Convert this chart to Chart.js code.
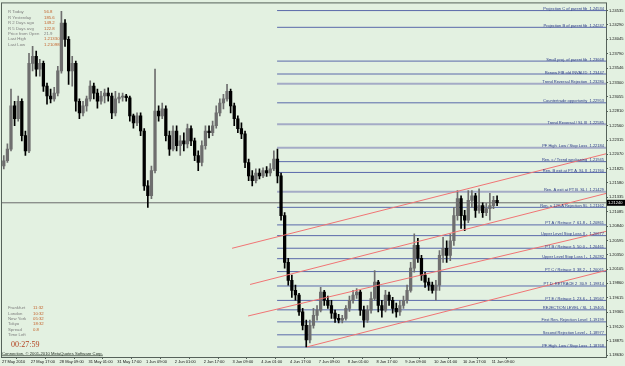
<!DOCTYPE html>
<html>
<head>
<meta charset="utf-8">
<script src="https://cdn.jsdelivr.net/npm/chart.js@4.4.0/dist/chart.umd.min.js"></script>
<style>
  html, body { margin: 0; padding: 0; background: #e3f1e1; }
</style>
</head>
<body>
<canvas id="chart" width="625" height="366"></canvas>
<script>
// EURUSD, 2-hour candles (27 May - 11 Jun 2010)
const opens = [
  1.2187, 1.2196, 1.2216, 1.2290, 1.2268, 1.2298, 1.2239, 1.2213, 1.2363, 1.2375,
  1.2353, 1.2363, 1.2324, 1.2307, 1.2302, 1.2312, 1.2350, 1.2432, 1.2404, 1.2350,
  1.2363, 1.2298, 1.2278, 1.2290, 1.2302, 1.2324, 1.2312, 1.2298, 1.2307, 1.2312,
  1.2307, 1.2278, 1.2302, 1.2305, 1.2307, 1.2304, 1.2273, 1.2261, 1.2273, 1.2247,
  1.2153, 1.2136, 1.2179, 1.2281, 1.2273, 1.2285, 1.2239, 1.2216, 1.2247, 1.2222,
  1.2230, 1.2225, 1.2251, 1.2230, 1.2205, 1.2193, 1.2222, 1.2247, 1.2244, 1.2256,
  1.2278, 1.2295, 1.2302, 1.2315, 1.2290, 1.2268, 1.2251, 1.2242, 1.2193, 1.2170,
  1.2162, 1.2175, 1.2170, 1.2179, 1.2175, 1.2182, 1.2199, 1.2170, 1.2102, 1.2022,
  1.1991, 1.1974, 1.1966, 1.1937, 1.1914, 1.1889, 1.1914, 1.1931, 1.1940, 1.1971,
  1.1957, 1.1948, 1.1935, 1.1926, 1.1923, 1.1926, 1.1943, 1.1957, 1.1966, 1.1971,
  1.1940, 1.1923, 1.1940, 1.1960, 1.1988, 1.1948, 1.1940, 1.1966, 1.1957, 1.1943,
  1.1937, 1.1948, 1.1957, 1.1974, 1.2012, 1.2051, 1.2029, 1.2000, 1.1988, 1.1983,
  1.1974, 1.1983, 1.2034, 1.2046, 1.2034, 1.2059, 1.2102, 1.2131, 1.2102, 1.2094,
  1.2128, 1.2136, 1.2111, 1.2119, 1.2107, 1.2114, 1.2119, 1.2128
];
const highs = [
  1.2205, 1.2225, 1.2319, 1.2298, 1.2307, 1.2302, 1.2247, 1.2380, 1.2392, 1.2384,
  1.2370, 1.2367, 1.2329, 1.2319, 1.2322, 1.2358, 1.2452, 1.2438, 1.2409, 1.2375,
  1.2367, 1.2302, 1.2298, 1.2307, 1.2333, 1.2329, 1.2319, 1.2315, 1.2319, 1.2321,
  1.2312, 1.2315, 1.2312, 1.2312, 1.2310, 1.2307, 1.2276, 1.2278, 1.2278, 1.2251,
  1.2162, 1.2187, 1.2353, 1.2290, 1.2295, 1.2290, 1.2247, 1.2256, 1.2256, 1.2239,
  1.2244, 1.2259, 1.2256, 1.2235, 1.2213, 1.2230, 1.2256, 1.2256, 1.2264, 1.2290,
  1.2302, 1.2310, 1.2327, 1.2319, 1.2295, 1.2273, 1.2261, 1.2247, 1.2199, 1.2179,
  1.2182, 1.2182, 1.2184, 1.2186, 1.2191, 1.2213, 1.2216, 1.2175, 1.2107, 1.2029,
  1.2000, 1.1983, 1.1969, 1.1943, 1.1923, 1.1923, 1.1943, 1.1948, 1.1979, 1.1974,
  1.1964, 1.1957, 1.1940, 1.1933, 1.1931, 1.1948, 1.1964, 1.1974, 1.1977, 1.1974,
  1.1947, 1.1948, 1.1971, 1.2008, 1.1991, 1.1957, 1.1974, 1.1971, 1.1962, 1.1952,
  1.1957, 1.1964, 1.1983, 1.2022, 1.2071, 1.2063, 1.2034, 1.2005, 1.1995, 1.1988,
  1.1991, 1.2042, 1.2065, 1.2059, 1.2071, 1.2116, 1.2145, 1.2136, 1.2111, 1.2145,
  1.2145, 1.2140, 1.2148, 1.2124, 1.2123, 1.2140, 1.2135, 1.2136
];
const lows = [
  1.2182, 1.2193, 1.2213, 1.2256, 1.2264, 1.2230, 1.2205, 1.2210, 1.2350, 1.2341,
  1.2341, 1.2315, 1.2293, 1.2295, 1.2298, 1.2307, 1.2346, 1.2392, 1.2327, 1.2324,
  1.2281, 1.2268, 1.2273, 1.2281, 1.2298, 1.2302, 1.2286, 1.2293, 1.2295, 1.2298,
  1.2268, 1.2273, 1.2295, 1.2298, 1.2298, 1.2264, 1.2252, 1.2256, 1.2239, 1.2145,
  1.2116, 1.2131, 1.2175, 1.2264, 1.2268, 1.2230, 1.2205, 1.2213, 1.2213, 1.2205,
  1.2213, 1.2218, 1.2222, 1.2196, 1.2179, 1.2187, 1.2216, 1.2235, 1.2239, 1.2252,
  1.2273, 1.2285, 1.2298, 1.2278, 1.2256, 1.2244, 1.2234, 1.2184, 1.2162, 1.2153,
  1.2158, 1.2165, 1.2167, 1.2169, 1.2170, 1.2179, 1.2158, 1.2094, 1.2012, 1.1983,
  1.1962, 1.1957, 1.1931, 1.1906, 1.1877, 1.1884, 1.1909, 1.1923, 1.1937, 1.1948,
  1.1943, 1.1926, 1.1919, 1.1918, 1.1918, 1.1923, 1.1938, 1.1952, 1.1960, 1.1931,
  1.1911, 1.1919, 1.1935, 1.1957, 1.1937, 1.1928, 1.1937, 1.1948, 1.1935, 1.1928,
  1.1931, 1.1943, 1.1952, 1.1971, 1.2005, 1.2022, 1.1991, 1.1979, 1.1974, 1.1969,
  1.1957, 1.1974, 1.2022, 1.2022, 1.2025, 1.2051, 1.2094, 1.2080, 1.2076, 1.2090,
  1.2116, 1.2099, 1.2106, 1.2099, 1.2102, 1.2094, 1.2114, 1.2119
];
const closes = [
  1.2196, 1.2216, 1.2290, 1.2268, 1.2298, 1.2239, 1.2213, 1.2363, 1.2375, 1.2353,
  1.2363, 1.2324, 1.2307, 1.2302, 1.2312, 1.2350, 1.2432, 1.2404, 1.2350, 1.2363,
  1.2298, 1.2278, 1.2290, 1.2302, 1.2324, 1.2312, 1.2298, 1.2307, 1.2312, 1.2307,
  1.2278, 1.2302, 1.2305, 1.2307, 1.2304, 1.2273, 1.2261, 1.2273, 1.2247, 1.2153,
  1.2136, 1.2179, 1.2281, 1.2273, 1.2285, 1.2239, 1.2216, 1.2247, 1.2222, 1.2230,
  1.2225, 1.2251, 1.2230, 1.2205, 1.2193, 1.2222, 1.2247, 1.2244, 1.2256, 1.2278,
  1.2295, 1.2302, 1.2315, 1.2290, 1.2268, 1.2251, 1.2242, 1.2193, 1.2170, 1.2162,
  1.2175, 1.2170, 1.2179, 1.2175, 1.2182, 1.2199, 1.2170, 1.2102, 1.2022, 1.1991,
  1.1974, 1.1966, 1.1937, 1.1914, 1.1889, 1.1914, 1.1931, 1.1940, 1.1971, 1.1957,
  1.1948, 1.1935, 1.1926, 1.1923, 1.1926, 1.1943, 1.1957, 1.1966, 1.1971, 1.1940,
  1.1923, 1.1940, 1.1960, 1.1988, 1.1948, 1.1940, 1.1966, 1.1957, 1.1943, 1.1937,
  1.1948, 1.1957, 1.1974, 1.2012, 1.2051, 1.2029, 1.2000, 1.1988, 1.1983, 1.1974,
  1.1983, 1.2034, 1.2046, 1.2034, 1.2059, 1.2102, 1.2131, 1.2102, 1.2094, 1.2128,
  1.2136, 1.2111, 1.2119, 1.2107, 1.2114, 1.2119, 1.2128, 1.2124
];

// time axis: one label every 16 hourly bars
const timeLabels = [
  '27 May 2010', '27 May 17:00', '28 May 09:00', '31 May 01:00', '31 May 17:00',
  '1 Jun 09:00', '2 Jun 01:00', '2 Jun 17:00', '3 Jun 09:00', '4 Jun 01:00',
  '4 Jun 17:00', '7 Jun 09:00', '8 Jun 01:00', '8 Jun 17:00', '9 Jun 09:00',
  '10 Jun 01:00', '10 Jun 17:00', '11 Jun 09:00'
];
const priceTicks = [
  1.24535, 1.24290, 1.24045, 1.23790, 1.23546, 1.23300, 1.23055, 1.22810,
  1.22560, 1.22315, 1.22070, 1.21825, 1.21580, 1.21335, 1.21085, 1.20840,
  1.20595, 1.20350, 1.20105, 1.19860, 1.19615, 1.19365, 1.19120, 1.18875, 1.18630
];

// fib / pivot levels drawn on the chart
const levelNames = [
  'Projection C of parent fib', 'Projection B of parent fib', 'Small proj. of parent fib',
  'Renew FIB old INVALID', 'Trend Reversal Rejection', 'Countertrade opportunity',
  'Trend Reversal / SL III', 'PF High  Low / Stop Loss', 'Ren. c / Trend weakening',
  'Ren. B exit at PT A  SL II', 'Ren. A exit at PT B  SL I', 'Ren. a 123-A Rejection SL',
  'PT A / Retrace 7  61.8 -', 'Upper Level Stop Loss II -', 'PT B / Retrace 5  50.0 -',
  'Upper Level Stop Loss I -', 'PT C / Retrace 3  38.2 -', 'PT D  RETRACE 2  30.9',
  'PT E / Retrace 1  23.6 -', 'REJECTION LEVEL / SL', 'First Ren. Rejection Level',
  'Second Rejection Level -', 'PF High  Low / Stop Loss'
];
const levelPrices = [
  1.24534, 1.24247, 1.23668, 1.23447, 1.23280, 1.22953, 1.22585, 1.22184, 1.21945,
  1.21760, 1.21429, 1.21162, 1.20861, 1.20677, 1.20461, 1.20282, 1.20061, 1.19814,
  1.19567, 1.19405, 1.19199, 1.18977, 1.18768
];
const levelFromBar = 152.8;

// trend channel lines: [bar, price] -> [bar, price]
const channelFrom = [[127.8, 1.2046], [137.8, 1.1984], [136.7, 1.1930], [169.4, 1.1877]];
const channelTo = [[335.5, 1.2208], [335.5, 1.2140], [335.5, 1.2075], [335.5, 1.2008]];

// info panels
const statNames = ['R Today', 'R Yesterday', 'R 2 Days ago', 'R 5 Days avg', 'Price from Open', 'Last High', 'Last Low'];
const statValues = ['56.8', '185.6', '149.2', '122.8', '21.9', '1.21330', '1.21098'];
const sessionNames = ['Frankfurt', 'London', 'New York', 'Tokyo', 'Spread', 'Time Left'];
const sessionValues = ['11:32', '10:32', '05:32', '18:32', '0.8', ''];
const timeLeft = '00:27:59';

// ---------------------------------------------------------------

const grayLevels = [4, 6, 7, 10];
const FONT = '"Liberation Sans", Arial, sans-serif';

const candleX = closes.map((c, i) => 2 * i + 1);
const lastPrice = closes[closes.length - 1];

const datasets = [];

levelPrices.forEach((p, i) => {
  const gray = grayLevels.includes(i);
  datasets.push({
    type: 'line',
    data: [{ x: levelFromBar, y: p }, { x: 335.5, y: p }],
    borderColor: gray ? '#a4abc6' : '#5a69aa',
    borderWidth: gray ? 2 : 1,
    pointRadius: 0,
    order: 5
  });
});

datasets.push({
  type: 'line',
  data: [{ x: 0, y: lastPrice }, { x: 335.5, y: lastPrice }],
  borderColor: '#6b6b6b',
  borderWidth: 1,
  pointRadius: 0,
  order: 4
});

channelFrom.forEach((a, i) => {
  datasets.push({
    type: 'line',
    data: [{ x: a[0], y: a[1] }, { x: channelTo[i][0], y: channelTo[i][1] }],
    borderColor: '#f07474',
    borderWidth: 1,
    pointRadius: 0,
    order: 1
  });
});

// bull candles gray, bear candles black
const candleColors = closes.map((c, i) => c >= opens[i] ? '#6e6e6e' : '#000000');

datasets.push({
  type: 'bar',
  data: candleX.map((x, i) => ({ x: x, y: [lows[i], highs[i]] })),
  backgroundColor: candleColors,
  barThickness: 1,
  grouped: false,
  order: 3
});
datasets.push({
  type: 'bar',
  data: candleX.map((x, i) => ({ x: x, y: [opens[i], closes[i]] })),
  backgroundColor: candleColors,
  barThickness: 2.6,
  minBarLength: 1,
  grouped: false,
  order: 2
});

const overlay = {
  id: 'overlay',
  beforeDraw(chart) {
    const ctx = chart.ctx;
    ctx.save();
    ctx.fillStyle = '#e3f1e1';
    ctx.fillRect(0, 0, chart.width, chart.height);
    ctx.restore();
  },
  afterDraw(chart) {
    const ctx = chart.ctx;
    const a = chart.chartArea;
    const y = chart.scales.y;
    ctx.save();

    // frame
    ctx.strokeStyle = '#56625a';
    ctx.lineWidth = 1;
    ctx.strokeRect(a.left - 0.5, a.top - 0.5, a.right - a.left + 1, a.bottom - a.top + 1);

    // level captions sit on their lines
    ctx.font = '4px ' + FONT;
    ctx.textAlign = 'right';
    ctx.textBaseline = 'alphabetic';
    ctx.fillStyle = '#2c3c88';
    levelNames.forEach((n, i) => {
      const py = y.getPixelForValue(levelPrices[i]);
      ctx.fillText(n + '  ' + levelPrices[i].toFixed(5), a.right - 2, py - 0.5);
    });

    // current price box
    const py = y.getPixelForValue(lastPrice);
    ctx.fillStyle = '#000';
    ctx.fillRect(a.right + 1, py - 3, 18, 6);
    ctx.fillStyle = '#fff';
    ctx.textAlign = 'left';
    ctx.textBaseline = 'middle';
    ctx.fillText(lastPrice.toFixed(5), a.right + 2, py + 0.5);

    // top-left stats
    ctx.font = '4.3px ' + FONT;
    ctx.textBaseline = 'middle';
    statNames.forEach((n, i) => {
      const ty = 12.3 + i * 5.4;
      ctx.fillStyle = '#7d7d7d';
      ctx.fillText(n, 8, ty);
      ctx.fillStyle = i === 4 ? '#7d7d7d' : '#c4622a';
      ctx.fillText(statValues[i], 44, ty);
    });

    // bottom-left sessions
    sessionNames.forEach((n, i) => {
      const ty = 308 + i * 5.4;
      ctx.fillStyle = '#7d7d7d';
      ctx.fillText(n, 8, ty);
      ctx.fillStyle = '#c4622a';
      ctx.fillText(sessionValues[i], 33, ty);
    });

    ctx.font = '8px "Liberation Serif", serif';
    ctx.fillStyle = '#b3401e';
    ctx.fillText(timeLeft, 11, 345);

    ctx.font = '4.2px ' + FONT;
    ctx.fillStyle = '#1e2a1e';
    const cr = 'Connection, \u00a9 2001-2010 MetaQuotes Software Corp.';
    ctx.fillText(cr, 2, 354);
    ctx.fillRect(2, 355.5, ctx.measureText(cr).width, 0.6);

    ctx.restore();
  }
};

new Chart(document.getElementById('chart'), {
  type: 'bar',
  data: { datasets: datasets },
  options: {
    responsive: false,
    animation: false,
    devicePixelRatio: 1,
    events: [],
    layout: { padding: { left: 2, top: 2, right: 0, bottom: 0 } },
    plugins: { legend: { display: false }, tooltip: { enabled: false } },
    scales: {
      x: {
        type: 'linear',
        min: 0,
        max: 335.5,
        offset: false,
        afterBuildTicks: s => { s.ticks = timeLabels.map((t, i) => ({ value: i * 16 })); },
        afterFit: s => { s.height = 9; },
        grid: { drawOnChartArea: false, tickLength: 2, color: '#56625a' },
        border: { display: false },
        ticks: {
          align: 'start', maxRotation: 0, autoSkip: false, padding: 0,
          color: '#111', font: { size: 4, family: FONT },
          callback: (v, i) => timeLabels[i]
        }
      },
      y: {
        position: 'right',
        min: 1.18597,
        max: 1.24657,
        afterBuildTicks: s => { s.ticks = priceTicks.map(v => ({ value: v })); },
        afterFit: s => { s.width = 19; },
        grid: { drawOnChartArea: false, tickLength: 2, color: '#56625a' },
        border: { display: false },
        ticks: {
          autoSkip: false, padding: 1,
          color: '#111', font: { size: 4, family: FONT },
          callback: v => v.toFixed(5)
        }
      }
    }
  },
  plugins: [overlay]
});
</script>
</body>
</html>
